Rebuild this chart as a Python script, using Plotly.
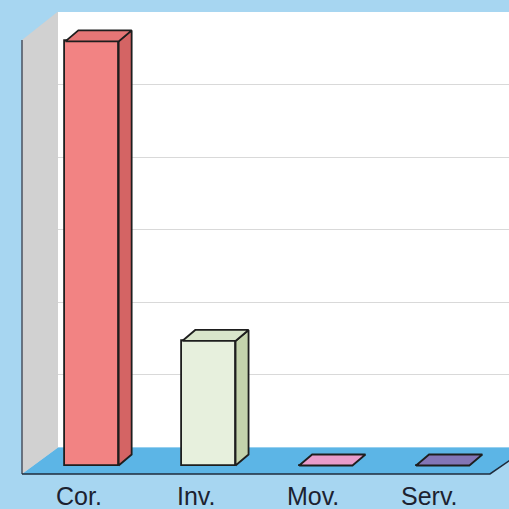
import plotly.graph_objects as go

# ---- data ----
categories = ["Cor.", "Inv.", "Mov.", "Serv."]
values = [58.9, 17.3, 0.0, 0.0]
front_colors = ["#f28383", "#e7f0dd", "#e99ccb", "#8375b6"]
side_colors = ["#d46464", "#c4d3ac", "#c97bab", "#64579b"]
top_colors = ["#e67676", "#d9e5cb", "#e99ccb", "#8375b6"]
grid_ticks = [0, 10, 20, 30, 40, 50, 60]

# ---- projection helpers (pixel geometry of the pseudo-3D frame) ----
W = H = 509
X0_PX, STEP_PX = 92.0, 116.9
ZERO_PX, UNIT_PX = 465.5, 7.2


def px_to_x(p):
    return (p - X0_PX) / STEP_PX


def py_to_y(p):
    return (ZERO_PX - p) / UNIT_PX


def pap(xp, yp):
    return xp / W, 1 - yp / H


def path(points):
    pts = [pap(*p) for p in points]
    return "M " + " L ".join(f"{a:.5f},{b:.5f}" for a, b in pts) + " Z"


x_range = [px_to_x(0), px_to_x(W)]
y_range = [py_to_y(H), py_to_y(0)]
BAR_W = 53.3 / STEP_PX
DX = 13.0 / STEP_PX
DY = 11.0 / UNIT_PX
EDGE = "#1e1e1e"

fig = go.Figure()

# value-axis subplot (back wall gridlines)
fig.add_trace(go.Scatter(x=[0], y=[0], mode="markers", marker=dict(opacity=0),
                         hoverinfo="skip", showlegend=False, xaxis="x", yaxis="y"))

xs = list(range(len(categories)))
# front faces
fig.add_trace(go.Bar(x=xs, y=values, width=BAR_W, base=0,
                     marker=dict(color=front_colors, line=dict(color=EDGE, width=1.8)),
                     hoverinfo="skip", showlegend=False, xaxis="x2", yaxis="y2"))

# side and top faces
for i, v in enumerate(values):
    x0 = i - BAR_W / 2
    x1 = i + BAR_W / 2
    if v > 0:
        fig.add_trace(go.Scatter(
            x=[x1, x1 + DX, x1 + DX, x1, x1],
            y=[0, DY, v + DY, v, 0],
            fill="toself", fillcolor=side_colors[i], mode="lines",
            line=dict(color=EDGE, width=1.8), hoverinfo="skip", showlegend=False,
            xaxis="x2", yaxis="y2"))
    fig.add_trace(go.Scatter(
        x=[x0, x1, x1 + DX, x0 + DX, x0],
        y=[v, v, v + DY, v + DY, v],
        fill="toself", fillcolor=top_colors[i], mode="lines",
        line=dict(color=EDGE, width=1.8), hoverinfo="skip", showlegend=False,
        xaxis="x2", yaxis="y2"))

shapes = [
    # back wall
    dict(type="path", path=path([(58, 12), (W + 2, 12), (W + 2, 447.5), (58, 447.5)]),
         xref="paper", yref="paper", fillcolor="#ffffff", line=dict(width=0), layer="below"),
    # floor
    dict(type="path", path=path([(22, 474), (58, 447.5), (W + 2, 447.5), (W + 2, 459.5), (490, 474)]),
         xref="paper", yref="paper", fillcolor="#5cb5e6", line=dict(width=0), layer="below"),
    # left wall
    dict(type="path", path=path([(22, 40), (58, 11.5), (58, 447.5), (22, 474)]),
         xref="paper", yref="paper", fillcolor="#d1d1d1", line=dict(width=0), layer="below"),
    # edges
    dict(type="path", path="M %.5f,%.5f L %.5f,%.5f" % (*pap(22, 40), *pap(22, 474)),
         xref="paper", yref="paper", line=dict(color="#4a5260", width=1.5), layer="below"),
    dict(type="path", path="M %.5f,%.5f L %.5f,%.5f L %.5f,%.5f" % (*pap(22, 474), *pap(490, 474), *pap(W + 2, 459.5)),
         xref="paper", yref="paper", line=dict(color="#1f2c3c", width=1.6), layer="below"),
]

annotations = [
    dict(x=i, y=py_to_y(495.5), xref="x2", yref="y2", text=c, showarrow=False,
         xshift=-12.8, font=dict(size=25, family="Liberation Sans, Arial, sans-serif", color="#1c2230"))
    for i, c in enumerate(categories)
]

fig.update_layout(
    width=W, height=H,
    margin=dict(l=0, r=0, t=0, b=0, pad=0),
    paper_bgcolor="#a7d6f1",
    plot_bgcolor="rgba(0,0,0,0)",
    showlegend=False,
    shapes=shapes,
    annotations=annotations,
    bargap=0,
    xaxis=dict(domain=[58 / W, 1], range=[0, 1], visible=False, fixedrange=True),
    yaxis=dict(domain=[1 - 447.5 / H, 1 - 12 / H], range=[0, 60], tickvals=grid_ticks,
               showgrid=True, gridcolor="#d9d9d9", gridwidth=1, showticklabels=False,
               zeroline=False, showline=False, ticks="", fixedrange=True),
    xaxis2=dict(domain=[0, 1], range=x_range, visible=False, anchor="y2", fixedrange=True),
    yaxis2=dict(domain=[0, 1], range=y_range, visible=False, anchor="x2", fixedrange=True),
)

fig.write_html(
    "out.html",
    config={"displayModeBar": False},
    post_script="document.body.style.margin='0px';document.body.style.overflow='hidden';",
)
